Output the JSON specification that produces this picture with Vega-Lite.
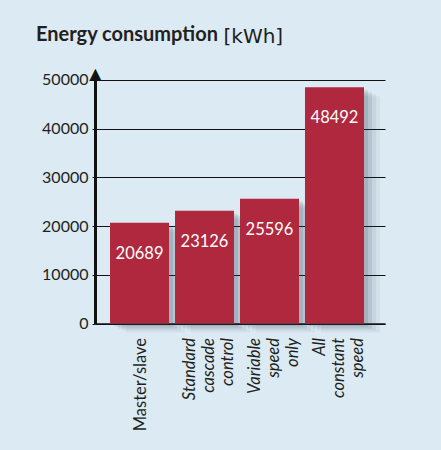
{
  "$schema": "https://vega.github.io/schema/vega-lite/v6.json",
  "autosize": "none",
  "width": 290,
  "height": 251.5,
  "padding": {"left": 95, "top": 72, "right": 56, "bottom": 126.5},
  "background": "#dbeaf3",
  "title": {
    "text": "Energy consumption",
    "anchor": "start",
    "frame": "group",
    "dx": -59,
    "dy": 35,
    "offset": 0,
    "baseline": "alphabetic",
    "font": "Lato",
    "fontSize": 20,
    "fontWeight": "bold",
    "color": "#231f20"
  },
  "config": {
    "view": {"stroke": null},
    "font": "Lato"
  },
  "data": {
    "values": [
      {"strategy": "Master/slave", "kwh": 20689},
      {"strategy": "Standard|cascade|control", "kwh": 23126},
      {"strategy": "Variable|speed|only", "kwh": 25596},
      {"strategy": "All|constant|speed", "kwh": 48492}
    ]
  },
  "encoding": {
    "x": {
      "field": "strategy",
      "type": "nominal",
      "sort": null,
      "scale": {"paddingInner": 0.092, "paddingOuter": 0.277, "align": 0.417},
      "axis": {
        "title": "[kWh]",
        "titleX": 128,
        "titleY": -281.5,
        "titleAlign": "left",
        "titleAnchor": null,
        "titleBaseline": "alphabetic",
        "titleAngle": 0,
        "titleFont": "DejaVu Sans",
        "titleFontSize": 20,
        "titleFontWeight": "normal",
        "titleColor": "#231f20",
        "labelAngle": 270,
        "labelAlign": "right",
        "labelBaseline": "middle",
        "labelExpr": "split(datum.label, '|')",
        "labelFont": "Lato",
        "labelFontSize": 16.5,
        "labelLineHeight": 19,
        "labelColor": "#231f20",
        "labelPadding": 14,
        "labelOffset": {"condition": {"test": "indexof(datum.value, '|') >= 0", "value": -15}, "value": 1},
        "labelFontStyle": {"condition": {"test": "datum.value === 'Master/slave'", "value": "normal"}, "value": "italic"},
        "ticks": false,
        "domainColor": "#111111",
        "domainWidth": 1.5,
        "grid": false
      }
    },
    "y": {
      "field": "kwh",
      "type": "quantitative",
      "scale": {"domain": [0, 51600], "nice": false, "zero": true},
      "axis": {
        "values": [0, 10000, 20000, 30000, 40000, 50000],
        "format": "d",
        "title": "▲",
        "titleFont": "DejaVu Sans",
        "titleFontSize": 16,
        "titleFontWeight": "normal",
        "titleColor": "#111111",
        "titleAngle": 0,
        "titleX": 0,
        "titleY": 6,
        "titleAlign": "center",
        "titleAnchor": null,
        "titleBaseline": "alphabetic",
        "labelFont": "Lato",
        "labelFontSize": 16,
        "labelColor": "#231f20",
        "labelPadding": 4,
        "tickSize": 3,
        "tickColor": "#111111",
        "domainColor": "#111111",
        "domainWidth": 3,
        "grid": true,
        "gridColor": "#111111",
        "gridWidth": 1,
        "gridOpacity": 1
      }
    }
  },
  "layer": [
    {"mark": {"type": "bar", "color": "#2d3e4a", "opacity": 0.12, "xOffset": 4, "yOffset": 3}},
    {"mark": {"type": "bar", "color": "#2d3e4a", "opacity": 0.1, "xOffset": 8, "yOffset": 5}},
    {"mark": {"type": "bar", "color": "#2d3e4a", "opacity": 0.07, "xOffset": 12, "yOffset": 7}},
    {"mark": {"type": "bar", "color": "#2d3e4a", "opacity": 0.05, "xOffset": 16, "yOffset": 9}},
    {"mark": {"type": "bar", "color": "#b0283e"}},
    {
      "mark": {"type": "text", "color": "#ffffff", "font": "Lato", "fontSize": 16.5, "baseline": "middle", "dy": 31},
      "encoding": {"text": {"field": "kwh", "type": "quantitative", "format": "d"}}
    }
  ]
}
